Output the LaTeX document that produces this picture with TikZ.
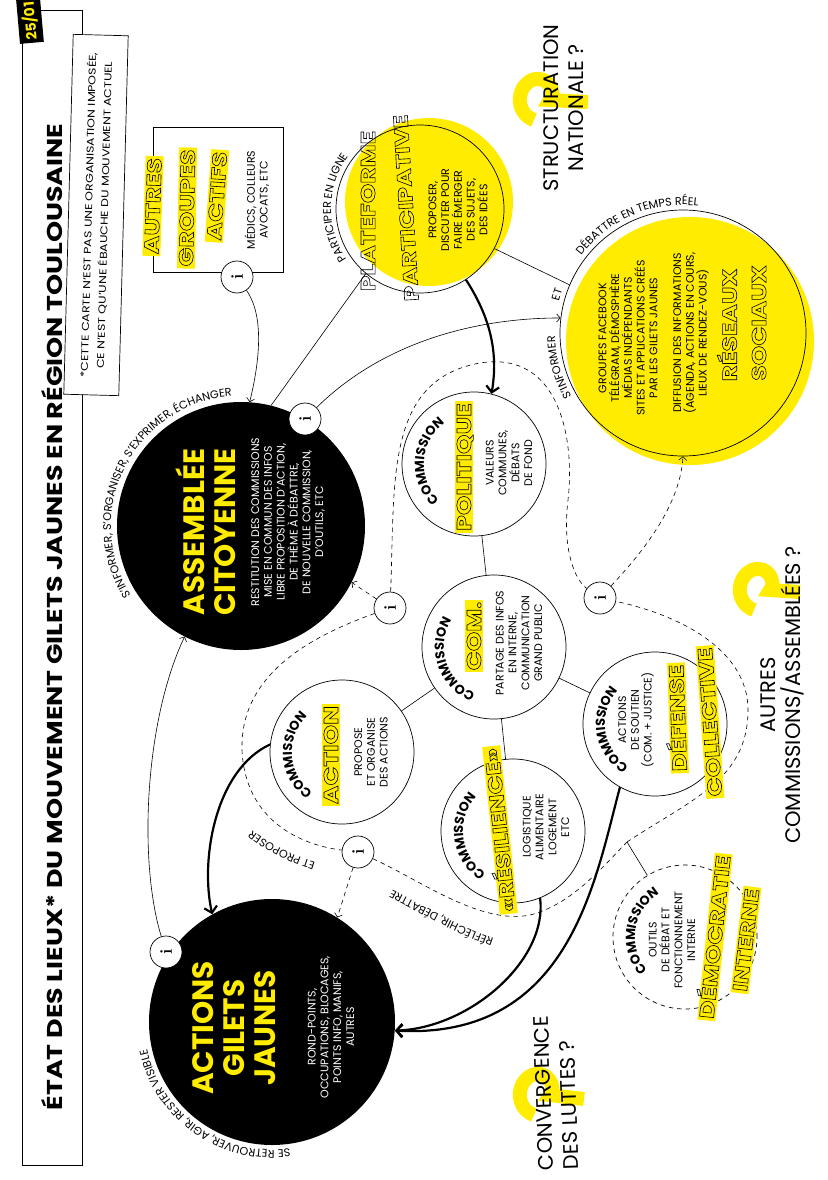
\documentclass[tikz,border=0pt]{standalone}
\usepackage{fontspec}
\usepackage{graphicx}
\usetikzlibrary{arrows.meta,decorations.text}
\newfontfamily\pop{Poppins}
\newfontfamily\popx[FakeStretch=1.25]{Poppins}
\definecolor{gj}{RGB}{255,236,0}
% outlined letters (text render mode 1)
\newcommand\outl[1]{\special{pdf:literal direct 0 G 0.6 w 1 Tr}#1\special{pdf:literal direct 0 Tr}}
\newcommand\arcfont{\pop\fontsize{11.2}{11.2}\selectfont}
\newcommand\comfont{\pop\bfseries\fontsize{13}{13}\selectfont}
\tikzset{
  rot/.style={rotate=90, inner sep=0pt, align=center},
  txt/.style={rot, font=\pop\fontsize{11}{12.8}\selectfont},
  wtxt/.style={txt, text=white},
  big/.style={rot, text=gj, font=\pop\bfseries\fontsize{29.5}{31}\selectfont},
  olw/.style={rot, font=\popx\bfseries\fontsize{20}{20}\selectfont},
  hlw/.style={olw, fill=gj, inner xsep=2pt, inner ysep=2pt, text height=14pt, text depth=0pt},
  ask/.style={rot, font=\pop\fontsize{21}{25}\selectfont},
  comm/.style={circle, draw, fill=white, minimum size=144pt, inner sep=0pt, line width=0.7pt},
  ring/.style={circle, draw, minimum size=#1, inner sep=0pt, line width=0.7pt},
  blk/.style={circle, fill=black, minimum size=#1, inner sep=0pt},
  info/.style={circle, draw, fill=white, minimum size=32pt, inner sep=0pt, line width=0.7pt,
               rotate=90, font=\bfseries\fontsize{17}{17}\selectfont},
  arr/.style={-{Straight Barb[length=3.5pt,width=8pt]}, line width=0.6pt},
  thk/.style={-{Straight Barb[length=6pt,width=13pt]}, line width=2.2pt},
  dsh/.style={line width=0.6pt, dash pattern=on 4.5pt off 4pt},
  darr/.style={dsh, -{Straight Barb[length=3.5pt,width=8pt]}},
  qmark/.style={gj, line width=14pt},
  curv/.style={decorate, decoration={text along path, text align=center, text={#1}}},
  curvl/.style={decorate, decoration={text along path, text align=left, text={#1}}},
  curvr/.style={decorate, decoration={text along path, text align=right, text={#1}}},
}
\begin{document}
\begin{tikzpicture}[x=1pt, y=-1pt]
  \useasboundingbox (0,0) rectangle (827,1180);

  % yellow question marks
  \draw[qmark] (534,120) .. controls (516,114) and (515,88) .. (532,80) .. controls (548,74) and (557,93) .. (550,100) -- (588,102);
  \draw[qmark] (534,1115) .. controls (516,1109) and (515,1083) .. (532,1075) .. controls (548,1069) and (557,1088) .. (550,1095) -- (584,1099);
  \draw[qmark] (754,610) .. controls (736,604) and (735,578) .. (752,570) .. controls (768,564) and (777,583) .. (770,590) -- (800,592);

  % header
  \draw[line width=0.7pt] (22,10) rectangle (82,1165);
  \node[fill=black, text=gj, rotate=95, inner xsep=3pt, inner ysep=4pt,
        font=\pop\bfseries\fontsize{14}{14}\selectfont] (date) at (30,21) {25/01};
  \node[rot, font=\popx\bfseries\fontsize{21.5}{21.5}\selectfont] (ttl) at (52,617)
    {ÉTAT DES LIEUX* DU MOUVEMENT GILETS JAUNES EN RÉGION TOULOUSAINE};
  \node[rot, draw, fill=white, rotate=-1.5, minimum width=360pt, minimum height=55pt,
        line width=0.7pt, font=\popx\fontsize{10}{16}\selectfont] (note) at (96,215)
    {*CETTE CARTE N’EST PAS UNE ORGANISATION IMPOSÉE,\\CE N’EST QU’UNE ÉBAUCHE DU MOUVEMENT ACTUEL};

  % yellow discs
  \fill[gj] (429,202) circle[radius=84];
  \fill[gj] (690,341) circle[radius=124];

  % main shapes
  \node[draw, line width=0.7pt, minimum width=130pt, minimum height=145pt] (grp) at (218,200) {};
  \node[ring=168pt] (plat) at (420,209) {};
  \node[ring=246pt] (rso) at (683,333) {};
  \node[blk=248pt] (asm) at (241,526) {};
  \node[blk=246pt] (agj) at (272,1022) {};
  \node[comm] (pol) at (474,464) {};
  \node[comm] (com) at (494,647) {};
  \node[comm] (act) at (342,752) {};
  \node[comm] (resi) at (513,831) {};
  \node[comm] (defe) at (655,724) {};
  \node[comm, dash pattern=on 4.5pt off 4pt] (demo) at (685,937) {};
  \coordinate (nd) at (627,842);

  % info badges
  \node[info] (iGrp) at (237,277) {i};
  \node[info] (iAsm) at (305,419) {i};
  \node[info] (iAgj) at (166,952) {i};
  \node[info] (iHaut) at (390,608) {i};
  \node[info] (iBas) at (358,852) {i};
  \node[info] (iRso) at (600,598) {i};

  % links
  \draw[arr] (iGrp) .. controls (266,318) and (258,368) .. (asm.86);
  \draw[line width=0.6pt] (asm.76) -- (plat.230);
  \draw[arr] (iAsm) .. controls (380,345) and (470,318) .. (rso.173);
  \draw[line width=0.6pt] (plat.332) -- (rso.157);
  \draw[thk] (plat.303) .. controls (492,320) and (498,355) .. (pol.76);
  \draw[arr] (iAgj) .. controls (138,860) and (145,720) .. (asm.243);
  \draw[darr] (iHaut) -- (asm.333);
  \draw[darr] (iBas) -- (agj.58);
  \draw[darr] (iRso) .. controls (635,560) and (680,510) .. (rso.270);
  \draw[line width=0.6pt] (pol) -- (com);
  \draw[line width=0.6pt] (com) -- (act);
  \draw[line width=0.6pt] (com) -- (resi);
  \draw[line width=0.6pt] (com) -- (defe);
  \draw[line width=0.6pt] (nd) -- (demo);
  \draw[thk] (act.174) .. controls (215,770) and (200,860) .. (agj.119);
  \draw[thk] (resi.292) .. controls (548,960) and (470,1028) .. (agj.356);
  \draw[thk] (defe.241) .. controls (595,880) and (570,1040) .. (agj.356);
  \draw[dsh] (iHaut) .. controls (395,480) and (385,380) .. (480,363)
                     .. controls (560,350) and (575,440) .. (568,500)
                     .. controls (562,550) and (575,580) .. (iRso);
  \draw[dsh] (iHaut) .. controls (300,640) and (240,680) .. (242,750)
                     .. controls (245,820) and (300,845) .. (iBas);
  \draw[dsh] (iBas) .. controls (420,880) and (480,925) .. (530,915)
                    .. controls (570,905) and (600,870) .. (nd);
  \draw[dsh] (nd) .. controls (690,800) and (748,780) .. (748,710)
                  .. controls (748,650) and (680,615) .. (iRso);

  % texts round the circles
  \path[curvr={|\arcfont|S’INFORMER, S’ORGANISER, S’EXPRIMER, ÉCHANGER}]
    ([shift={(95:130)}]asm.center) arc[start angle=95, end angle=266, radius=130];
  \path[curvl={|\arcfont|SE RETROUVER, AGIR, RESTER VISIBLE}]
    ([shift={(82:128)}]agj.center) arc[start angle=82, end angle=205, radius=128];
  \path[curv={|\arcfont|PARTICIPER EN LIGNE}]
    ([shift={(128:89)}]plat.center) arc[start angle=128, end angle=234, radius=89];
  \path[curv={|\arcfont|S’INFORMER}]
    ([shift={(142:128)}]rso.center) arc[start angle=142, end angle=187, radius=128];
  \path[curv={|\arcfont|ET}]
    ([shift={(190:128)}]rso.center) arc[start angle=190, end angle=204, radius=128];
  \path[curv={|\arcfont|DÉBATTRE EN TEMPS RÉEL}]
    ([shift={(204:128)}]rso.center) arc[start angle=204, end angle=290, radius=128];
  \path[curv={|\arcfont|RÉFLÉCHIR, DÉBATTRE}]
    (520,946) .. controls (470,936) and (425,905) .. (368,878);
  \path[curv={|\arcfont|ET PROPOSER}]
    (342,869) .. controls (300,860) and (262,845) .. (232,812);
  \path[curv={|\comfont|COMMISSION}] ([shift={(125:50)}]pol.center) arc[start angle=125, end angle=243, radius=50];
  \path[curv={|\comfont|COMMISSION}] ([shift={(103:50)}]com.center) arc[start angle=103, end angle=221, radius=50];
  \path[curv={|\comfont|COMMISSION}] ([shift={(117:50)}]act.center) arc[start angle=117, end angle=235, radius=50];
  \path[curv={|\comfont|COMMISSION}] ([shift={(114:50)}]resi.center) arc[start angle=114, end angle=232, radius=50];
  \path[curv={|\comfont|COMMISSION}] ([shift={(113:50)}]defe.center) arc[start angle=113, end angle=231, radius=50];
  \path[curv={|\comfont|COMMISSION}] ([shift={(130:50)}]demo.center) arc[start angle=130, end angle=248, radius=50];

  % titles
  \node[hlw, rotate=-2] (tAutres) at (153,206) {\outl{AUTRES}};
  \node[hlw, rotate=-1] (tGroupes) at (187,208) {\outl{GROUPES}};
  \node[hlw, rotate=-4] (tActifs) at (217,196) {\outl{ACTIFS}};
  \node[txt] (dGrp) at (257,200) {MÉDICS, COLLEURS\\AVOCATS, ETC};

  \node[big] (tAsm) at (206,532) {ASSEMBLÉE\\CITOYENNE};
  \node[wtxt] (dAsm) at (288,522) {RESTITUTION DES COMMISSIONS\\MISE EN COMMUN DES INFOS\\LIBRE PROPOSITION D’ACTION,\\DE THÈME À DÉBATTRE,\\DE NOUVELLE COMMISSION,\\D’OUTILS, ETC};

  \node[big] (tAgj) at (234,1028) {ACTIONS\\GILETS\\JAUNES};
  \node[wtxt] (dAgj) at (331,1027) {ROND-POINTS,\\OCCUPATIONS, BLOCAGES,\\POINTS INFO, MANIFS,\\AUTRES};

  \node[olw] (tPlat1) at (368,211) {\outl{PLATEFORME}};
  \node[olw, rotate=3.5] (tPlat2) at (406,208) {\outl{PARTICIPATIVE}};
  \node[txt] (dPlat) at (458,210) {PROPOSER,\\DISCUTER POUR\\FAIRE ÉMERGER\\DES SUJETS,\\DES IDÉES};

  \node[olw] (tRso1) at (727,325) {\outl{RÉSEAUX}};
  \node[olw] (tRso2) at (759,323) {\outl{SOCIAUX}};
  \node[txt] (dRso1) at (628,338) {GROUPES FACEBOOK\\TÉLÉGRAM, DÉMOSPHÈRE\\MÉDIAS INDÉPENDANTS\\SITES ET APPLICATIONS CRÉÉS\\PAR LES GILETS JAUNES};
  \node[txt] (dRso2) at (691,333) {DIFFUSION DES INFORMATIONS\\(AGENDA, ACTIONS EN COURS,\\LIEUX DE RENDEZ-VOUS)};

  \node[hlw] (tPol) at (464,467) {\outl{POLITIQUE}};
  \node[txt] (dPol) at (509,463) {VALEURS\\COMMUNES,\\DÉBATS\\DE FOND};

  \node[hlw] (tCom) at (474,636) {\outl{COM.}};
  \node[txt] (dCom) at (519,643) {PARTAGE DES INFOS\\EN INTERNE,\\COMMUNICATION\\GRAND PUBLIC};

  \node[hlw] (tAct) at (331,755) {\outl{ACTION}};
  \node[txt] (dAct) at (371,752) {PROPOSE\\ET ORGANISE\\DES ACTIONS};

  \node[hlw, rotate=6] (tResi) at (500,830) {\outl{«RÉSILIENCE»}};
  \node[txt] (dResi) at (546,827) {LOGISTIQUE\\ALIMENTAIRE\\LOGEMENT\\ETC};

  \node[hlw, rotate=2] (tDef1) at (678,718) {\outl{DÉFENSE}};
  \node[hlw, rotate=4] (tDef2) at (710,722) {\outl{COLLECTIVE}};
  \node[txt] (dDef) at (636,720) {ACTIONS\\DE SOUTIEN\\(COM. + JUSTICE)};

  \node[hlw, rotate=-6] (tDem1) at (715,937) {\outl{DÉMOCRATIE}};
  \node[hlw, rotate=-7] (tDem2) at (746,940) {\outl{INTERNE}};
  \node[txt] (dDem) at (672,940) {OUTILS\\DE DÉBAT ET\\FONCTIONNEMENT\\INTERNE};

  % open questions
  \node[ask] (qNat) at (564,108) {STRUCTURATION\\NATIONALE ?};
  \node[ask] (qAutres) at (782,695) {AUTRES\\COMMISSIONS/ASSEMBLÉES ?};
  \node[ask, align=left, rotate=2] (qLuttes) at (556,1093) {CONVERGENCE\\DES LUTTES ?};
\end{tikzpicture}
\end{document}
